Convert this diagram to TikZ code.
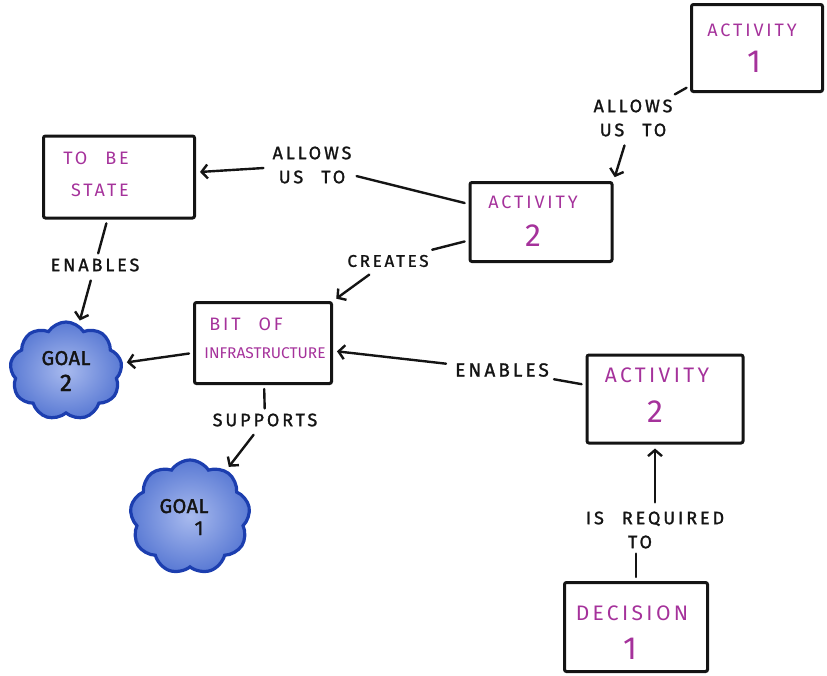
\documentclass[tikz,border=0pt]{standalone}
\usepackage{fontspec}
\setmainfont{Fira Sans}
\newfontfamily\handfont[LetterSpace=16]{Fira Sans}
\newfontfamily\labfont[LetterSpace=16, FakeBold=1.3]{Fira Sans}
\newfontfamily\goalfont[LetterSpace=2, FakeBold=1.8]{Fira Sans}
\usetikzlibrary{arrows.meta,shapes.symbols}
\definecolor{ink}{RGB}{20,20,20}
\definecolor{plum}{RGB}{165,50,155}
\definecolor{cloudedge}{RGB}{28,62,175}
\definecolor{cloudin}{RGB}{168,186,238}
\definecolor{cloudout}{RGB}{90,122,212}
\begin{document}
\begin{tikzpicture}[x=1pt,y=-1pt,
  box/.style={draw=ink, line width=3pt, rounded corners=2pt, inner sep=0pt},
  btxt/.style={text=plum, inner sep=0pt, font=\handfont\fontsize{#1}{#1}\selectfont},
  btxt/.default=18,
  bnum/.style={text=plum, inner sep=0pt, font=\handfont\fontsize{32}{32}\selectfont},
  lbl/.style={font=\labfont\fontsize{18}{24}\selectfont, text=ink, align=center, inner sep=5pt},
  conn/.style={draw=ink, line width=2.4pt, line cap=round, shorten <=4pt},
  arr/.style={conn, -{Straight Barb[length=6pt,width=14pt]}, shorten >=4pt},
  goal/.style={cloud, cloud puffs=9, cloud puff arc=115, draw=cloudedge, line width=3.2pt,
    inner color=cloudin, outer color=cloudout, align=center, text=ink,
    font=\goalfont\fontsize{20}{28}\selectfont, inner sep=0pt}
]
\useasboundingbox (0,0) rectangle (827,675);

% boxes
\node[box, minimum width=131pt, minimum height=87pt] (act1) at (757,48) {};
\node[box, minimum width=142pt, minimum height=79pt] (act2) at (541,222) {};
\node[box, minimum width=151pt, minimum height=82pt] (tobe) at (119,177) {};
\node[box, minimum width=137pt, minimum height=81pt] (bit) at (263,343) {};
\node[box, minimum width=156pt, minimum height=88pt] (act2b) at (665,399) {};
\node[box, minimum width=143pt, minimum height=89pt] (dec) at (636,627) {};

% box texts
\node[btxt] (act1a) at (752,30) {ACTIVITY};
\node[bnum] (act1b) at (754,62) {1};
\node[btxt] (act2a) at (533,202) {ACTIVITY};
\node[bnum] (act2c) at (533,236) {2};
\node[btxt] (tobea) at (96,158) {TO\quad BE};
\node[btxt] (tobeb) at (100,190) {STATE};
\node[btxt] (bita) at (246,324) {BIT\quad OF};
\node[btxt=15.5, font=\fontsize{15.5}{15.5}\selectfont] (bitb) at (265,353) {INFRASTRUCTURE};
\node[btxt=21] (act2ba) at (657,375) {ACTIVITY};
\node[bnum] (act2bb) at (655,412) {2};
\node[btxt=21] (deca) at (632,613) {DECISION};
\node[bnum] (decb) at (630,649) {1};

% goals
\node[goal, minimum width=112pt, minimum height=98pt] (goal2) at (66,371) {GOAL\\[-2pt]{\fontsize{24}{24}\selectfont 2}};
\node[goal, minimum width=120pt, minimum height=114pt] (goal1) at (190,517) {\hspace*{-12pt}GOAL\\[-6pt]\hspace*{18pt}1};

% labels
\node[lbl] (lab1) at (633,118) {ALLOWS\\US\quad TO};
\node[lbl] (lab2) at (312,165) {ALLOWS\\US\quad TO};
\node[lbl, font=\labfont\fontsize{17}{22}\selectfont] (lab3) at (388,261) {CREATES};
\node[lbl] (lab4) at (95,265) {ENABLES};
\node[lbl, font=\labfont\fontsize{19}{24}\selectfont] (lab6) at (502,370) {ENABLES};
\node[lbl] (lab7) at (265,420) {SUPPORTS};
\node[lbl] (lab8) at (655,530) {IS\quad REQUIRED\\\hspace*{-30pt}TO};

% connectors
\draw[conn] (act1) -- (lab1);
\draw[arr] (lab1) -- (act2.north east);
\draw[conn] (act2) -- (lab2);
\draw[arr] (lab2) -- (tobe);
\draw[conn] (act2) -- (lab3);
\draw[arr] (lab3) -- (bit.north east);
\draw[conn] (tobe) -- (lab4);
\draw[arr] (lab4) -- (goal2);
\draw[arr] (bit) -- (goal2);
\draw[conn] (act2b) -- (lab6);
\draw[arr] (lab6) -- (bit);
\draw[conn] (bit) -- (lab7);
\draw[arr] (lab7) -- (goal1);
\draw[conn] (dec) -- (dec |- lab8.south);
\draw[arr] (lab8) -- (lab8 |- act2b.south);
\end{tikzpicture}
\end{document}
